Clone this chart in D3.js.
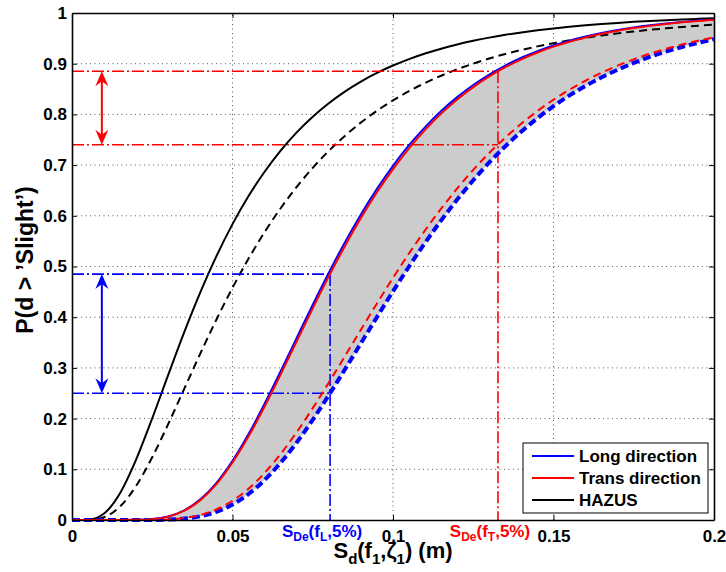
<!DOCTYPE html>
<html>
<head>
<meta charset="utf-8">
<script src="https://cdn.jsdelivr.net/npm/d3@7"></script>
<style>
  html, body { margin: 0; padding: 0; background: #fff; }
  svg { display: block; font-family: "Liberation Sans", Arial, sans-serif; }
</style>
</head>
<body>
<svg id="chart" width="726" height="572"></svg>
<script>
// ---- data ----
const sdValues = [0,0.005,0.01,0.015,0.02,0.025,0.03,0.035,0.04,0.045,0.05,0.055,0.06,0.065,0.07,0.075,0.08,0.085,0.09,0.095,0.1,0.105,0.11,0.115,0.12,0.125,0.13,0.135,0.14,0.145,0.15,0.155,0.16,0.165,0.17,0.175,0.18,0.185,0.19,0.195,0.2];
const hazusSolid = [0,0.0005,0.0129,0.0534,0.1196,0.2007,0.2867,0.3710,0.4494,0.5205,0.5836,0.6389,0.6869,0.7286,0.7645,0.7954,0.8220,0.8450,0.8647,0.8817,0.8964,0.9091,0.9201,0.9296,0.9379,0.9451,0.9514,0.9569,0.9617,0.9659,0.9696,0.9729,0.9758,0.9783,0.9805,0.9825,0.9843,0.9859,0.9873,0.9885,0.9896];
const hazusDashed = [0,0.0002,0.0055,0.0268,0.0676,0.1239,0.1896,0.2592,0.3287,0.3955,0.4581,0.5156,0.5679,0.6149,0.6570,0.6946,0.7280,0.7576,0.7839,0.8071,0.8276,0.8459,0.8620,0.8763,0.8889,0.9002,0.9103,0.9192,0.9271,0.9342,0.9405,0.9462,0.9512,0.9558,0.9598,0.9635,0.9668,0.9697,0.9724,0.9748,0.9770];
const transSolid = [0,0,0,0.00001,0.0003,0.0017,0.0067,0.0183,0.0392,0.0708,0.1133,0.1650,0.2238,0.2872,0.3524,0.4175,0.4805,0.5401,0.5956,0.6463,0.6922,0.7332,0.7695,0.8015,0.8295,0.8538,0.8749,0.8931,0.9087,0.9221,0.9336,0.9434,0.9518,0.9589,0.9650,0.9702,0.9746,0.9784,0.9816,0.9843,0.9866];
const longSolid = [0,0,0,0.00001,0.0003,0.0018,0.0071,0.0191,0.0408,0.0733,0.1168,0.1696,0.2294,0.2934,0.3592,0.4246,0.4878,0.5474,0.6027,0.6531,0.6986,0.7392,0.7750,0.8066,0.8341,0.8580,0.8786,0.8964,0.9117,0.9248,0.9359,0.9455,0.9536,0.9605,0.9664,0.9714,0.9757,0.9793,0.9824,0.9850,0.9872];
const transDashed = [0,0,0,0,0.00003,0.0002,0.0012,0.0039,0.0099,0.0208,0.0379,0.0618,0.0928,0.1303,0.1733,0.2206,0.2710,0.3229,0.3754,0.4272,0.4776,0.5258,0.5715,0.6143,0.6539,0.6906,0.7240,0.7544,0.7819,0.8067,0.8289,0.8488,0.8665,0.8823,0.8962,0.9086,0.9196,0.9292,0.9378,0.9453,0.9519];
const longDashed = [0,0,0,0,0.00001,0.0001,0.0008,0.0028,0.0074,0.0162,0.0305,0.0513,0.0788,0.1130,0.1529,0.1977,0.2462,0.2968,0.3486,0.4002,0.4510,0.5000,0.5467,0.5909,0.6320,0.6702,0.7052,0.7372,0.7662,0.7925,0.8162,0.8374,0.8563,0.8732,0.8881,0.9015,0.9133,0.9237,0.9329,0.9410,0.9482];

const sdeLong = 0.0804, sdeTrans = 0.1327;
const pLong = [0.485, 0.25];
const pTrans = [0.885, 0.74];
const arrowX = 0.0093;

const xTicks = [0, 0.05, 0.1, 0.15, 0.2];
const xTickLabels = ["0", "0.05", "0.1", "0.15", "0.2"];
const yTicks = [0, 0.1, 0.2, 0.3, 0.4, 0.5, 0.6, 0.7, 0.8, 0.9, 1];
const yTickLabels = ["0", "0.1", "0.2", "0.3", "0.4", "0.5", "0.6", "0.7", "0.8", "0.9", "1"];
const legendLabels = ["Long direction", "Trans direction", "HAZUS"];
const legendColors = ["#0000ff", "#ff0000", "#000000"];

// ---- layout ----
const svg = d3.select("#chart");
const L = 72, R = 714, T = 13, B = 520;
const x = d3.scaleLinear().domain([0, 0.2]).range([L, R]);
const y = d3.scaleLinear().domain([0, 1]).range([B, T]);

// grid
const grid = svg.append("g").attr("stroke", "#555").attr("stroke-width", 1).attr("stroke-dasharray", "1,3.5");
xTicks.slice(1, -1).forEach(v => grid.append("line").attr("x1", x(v)).attr("x2", x(v)).attr("y1", B).attr("y2", T));
yTicks.slice(1, -1).forEach(v => grid.append("line").attr("x1", L).attr("x2", R).attr("y1", y(v)).attr("y2", y(v)));

const pts = s => sdValues.map((v, i) => [v, s[i]]);
const line = d3.line().x(d => x(d[0])).y(d => y(d[1])).curve(d3.curveMonotoneX);

// grey band
const area = d3.area()
  .x((d, i) => x(sdValues[i]))
  .y0((d, i) => y(longDashed[i]))
  .y1((d, i) => y(transSolid[i]))
  .curve(d3.curveMonotoneX);
svg.append("path").datum(sdValues).attr("d", area).attr("fill", "#cccccc");

// HAZUS curves
svg.append("path").datum(pts(hazusSolid)).attr("d", line).attr("fill", "none").attr("stroke", "#000").attr("stroke-width", 2);
svg.append("path").datum(pts(hazusDashed)).attr("d", line).attr("fill", "none").attr("stroke", "#000").attr("stroke-width", 2).attr("stroke-dasharray", "8,5");

// dash-dot reference lines
const dd = "12,3,2,3";
const ann = svg.append("g").attr("fill", "none").attr("stroke-width", 1.6).attr("stroke-dasharray", dd);
pTrans.forEach(p => ann.append("line").attr("x1", x(0)).attr("x2", x(sdeTrans)).attr("y1", y(p)).attr("y2", y(p)).attr("stroke", "#ff0000"));
ann.append("line").attr("x1", x(sdeTrans)).attr("x2", x(sdeTrans)).attr("y1", y(pTrans[0])).attr("y2", y(0)).attr("stroke", "#ff0000");
pLong.forEach(p => ann.append("line").attr("x1", x(0)).attr("x2", x(sdeLong)).attr("y1", y(p)).attr("y2", y(p)).attr("stroke", "#0000ff"));
ann.append("line").attr("x1", x(sdeLong)).attr("x2", x(sdeLong)).attr("y1", y(pLong[0])).attr("y2", y(0)).attr("stroke", "#0000ff");

// directional curves
svg.append("path").datum(pts(longDashed)).attr("d", line).attr("fill", "none").attr("stroke", "#0000ff").attr("stroke-width", 4).attr("stroke-dasharray", "8,4");
svg.append("path").datum(pts(transDashed)).attr("d", line).attr("fill", "none").attr("stroke", "#ff0000").attr("stroke-width", 2).attr("stroke-dasharray", "8,5");
svg.append("path").datum(pts(longSolid)).attr("d", line).attr("fill", "none").attr("stroke", "#0000ff").attr("stroke-width", 2);
svg.append("path").datum(pts(transSolid)).attr("d", line).attr("fill", "none").attr("stroke", "#ff0000").attr("stroke-width", 2);

// double arrows
function doubleArrow(xv, p1, p2, color) {
  const xa = x(xv), ya = y(p1), yb = y(p2);
  const g = svg.append("g");
  g.append("line").attr("x1", xa).attr("x2", xa).attr("y1", ya + 8).attr("y2", yb - 8).attr("stroke", color).attr("stroke-width", 2);
  const head = (ty, dir) => `M${xa},${ty} L${xa + 6.5},${ty + dir * 15} L${xa},${ty + dir * 10} L${xa - 6.5},${ty + dir * 15} Z`;
  g.append("path").attr("d", head(ya, 1)).attr("fill", color);
  g.append("path").attr("d", head(yb, -1)).attr("fill", color);
}
doubleArrow(arrowX, pTrans[0], pTrans[1], "#ff0000");
doubleArrow(arrowX, pLong[0], pLong[1], "#0000ff");

// axes
const fmtX = d => xTickLabels[xTicks.indexOf(d)];
const fmtY = d => yTickLabels[yTicks.indexOf(d)];
const axB = svg.append("g").attr("transform", `translate(0,${B})`)
  .call(d3.axisBottom(x).tickValues(xTicks).tickFormat(fmtX).tickSizeInner(-5).tickSizeOuter(0).tickPadding(10));
const axL = svg.append("g").attr("transform", `translate(${L},0)`)
  .call(d3.axisLeft(y).tickValues(yTicks).tickFormat(fmtY).tickSizeInner(-5).tickSizeOuter(0).tickPadding(5));
const axT = svg.append("g").attr("transform", `translate(0,${T})`)
  .call(d3.axisTop(x).tickValues(xTicks).tickFormat("").tickSizeInner(-5).tickSizeOuter(0));
const axR = svg.append("g").attr("transform", `translate(${R},0)`)
  .call(d3.axisRight(y).tickValues(yTicks).tickFormat("").tickSizeInner(-5).tickSizeOuter(0));
[axB, axL, axT, axR].forEach(a => {
  a.select(".domain").attr("stroke", "#000").attr("stroke-width", 1.6);
  a.selectAll(".tick line").attr("stroke", "#000").attr("stroke-width", 1);
  a.selectAll(".tick text").attr("font-size", 17).attr("font-weight", "bold").attr("fill", "#000")
    .attr("font-family", "'Liberation Sans', Arial, sans-serif");
});

// S_De labels
function sdeLabel(xv, sub, color) {
  const t = svg.append("text").attr("x", x(xv) - 8).attr("y", 537).attr("text-anchor", "middle")
    .attr("fill", color).attr("font-weight", "bold").attr("font-size", 17);
  t.append("tspan").text("S");
  t.append("tspan").attr("font-size", 12).attr("dy", 4).text("De");
  t.append("tspan").attr("dy", -4).text("(f");
  t.append("tspan").attr("font-size", 12).attr("dy", 4).text(sub);
  t.append("tspan").attr("dy", -4).text(",5%)");
}
sdeLabel(sdeLong, "L", "#0000ff");
sdeLabel(sdeTrans, "T", "#ff0000");

// axis titles
const xt = svg.append("text").attr("x", (L + R) / 2).attr("y", 558).attr("text-anchor", "middle")
  .attr("font-weight", "bold").attr("font-size", 22).attr("fill", "#000");
xt.append("tspan").text("S");
xt.append("tspan").attr("font-size", 15).attr("dy", 6).text("d");
xt.append("tspan").attr("dy", -6).text("(f");
xt.append("tspan").attr("font-size", 15).attr("dy", 6).text("1");
xt.append("tspan").attr("dy", -6).text(",ζ");
xt.append("tspan").attr("font-size", 15).attr("dy", 6).text("1");
xt.append("tspan").attr("dy", -6).text(") (m)");

svg.append("text").attr("transform", "translate(33,260) rotate(-90)").attr("text-anchor", "middle")
  .attr("font-weight", "bold").attr("font-size", 23).attr("fill", "#000").text("P(d > ’Slight’)");

// legend
const lg = svg.append("g");
lg.append("rect").attr("x", 523).attr("y", 443).attr("width", 185).attr("height", 70)
  .attr("fill", "#fff").attr("stroke", "#000").attr("stroke-width", 1);
legendLabels.forEach((lab, i) => {
  const yy = 456 + i * 22;
  lg.append("line").attr("x1", 532).attr("x2", 574).attr("y1", yy).attr("y2", yy).attr("stroke", legendColors[i]).attr("stroke-width", 2);
  lg.append("text").attr("x", 579).attr("y", yy).attr("dy", "0.35em").attr("font-weight", "bold").attr("font-size", 17).attr("fill", "#000").text(lab);
});
</script>
</body>
</html>
